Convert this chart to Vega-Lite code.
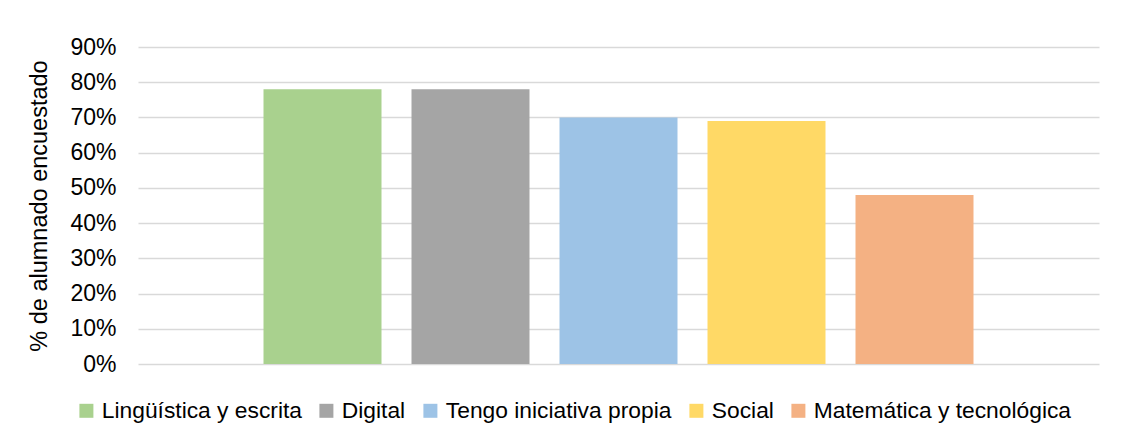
{
  "$schema": "https://vega.github.io/schema/vega-lite/v6.json",
  "autosize": {"type": "none"},
  "padding": {"left": 138, "top": 47, "right": 31, "bottom": 67},
  "width": 961,
  "height": 317,
  "background": "white",
  "config": {
    "view": {"stroke": null},
    "font": "Liberation Sans"
  },
  "data": {
    "values": [
      {"competencia": "Lingüística y escrita", "valor": 0.78},
      {"competencia": "Digital", "valor": 0.78},
      {"competencia": "Tengo iniciativa propia", "valor": 0.70},
      {"competencia": "Social", "valor": 0.69},
      {"competencia": "Matemática y tecnológica", "valor": 0.48}
    ]
  },
  "mark": {"type": "bar"},
  "encoding": {
    "x": {
      "field": "competencia",
      "type": "nominal",
      "sort": null,
      "scale": {"paddingInner": 0.2027, "paddingOuter": 0.848},
      "axis": null
    },
    "y": {
      "field": "valor",
      "type": "quantitative",
      "scale": {"domain": [0, 0.9], "nice": false},
      "axis": {
        "title": "% de alumnado encuestado",
        "titleFont": "Liberation Sans",
        "titleFontSize": 23.5,
        "titleFontWeight": "normal",
        "titleColor": "#000000",
        "titlePadding": 18,
        "format": ".0%",
        "values": [0, 0.1, 0.2, 0.3, 0.4, 0.5, 0.6, 0.7, 0.8, 0.9],
        "labelFont": "Liberation Sans",
        "labelFontSize": 23,
        "labelColor": "#000000",
        "labelPadding": 22,
        "ticks": false,
        "domain": false,
        "grid": true,
        "gridColor": "#D9D9D9",
        "gridWidth": 1.5
      }
    },
    "color": {
      "field": "competencia",
      "type": "nominal",
      "scale": {
        "domain": ["Lingüística y escrita", "Digital", "Tengo iniciativa propia", "Social", "Matemática y tecnológica"],
        "range": ["#A9D18E", "#A5A5A5", "#9DC3E6", "#FFD966", "#F4B183"]
      },
      "legend": {
        "title": null,
        "orient": "none",
        "direction": "horizontal",
        "legendX": -63,
        "legendY": 352,
        "symbolType": "square",
        "symbolSize": 196,
        "symbolStrokeWidth": 0,
        "labelFont": "Liberation Sans",
        "labelFontSize": 22.8,
        "labelColor": "#000000",
        "labelOffset": 4,
        "columnPadding": 13,
        "labelLimit": 400
      }
    }
  }
}
